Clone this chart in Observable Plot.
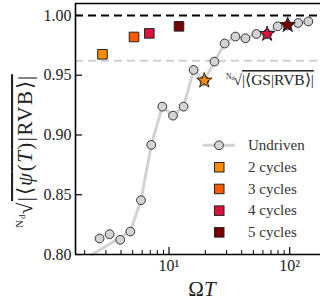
<!DOCTYPE html>
<html><head><meta charset="utf-8">
<script src="https://cdn.jsdelivr.net/npm/d3@7"></script>
<script src="https://cdn.jsdelivr.net/npm/@observablehq/plot@0.6"></script>
<style>
html,body{margin:0;padding:0;background:#fff;}
svg{font-family:"Liberation Serif",serif;}
</style></head><body><div id="chart"></div>
<script>
// ---- data ----
const undrivenX = [2.66, 3.22, 3.94, 4.78, 5.86, 7.13, 8.80, 10.8, 13.2, 16.0, 19.6, 23.8, 28.9, 35.5, 43.0, 53.0, 65.0, 79.5, 96.2, 117.5, 142.8];
const undrivenY = [0.8134, 0.8170, 0.8123, 0.8192, 0.8454, 0.8917, 0.9237, 0.9162, 0.9237, 0.9544, 0.9455, 0.9614, 0.9765, 0.9823, 0.9809, 0.9845, 0.9845, 0.9909, 0.9920, 0.9937, 0.9950];
const lineX = [2.30, 3.94, 4.78, 5.86, 7.13, 8.80, 10.8, 13.2, 16.0, 19.6, 23.8, 28.9, 35.5, 43.0, 53.0, 65.0, 79.5, 96.2, 117.5, 142.8];
const lineY = [0.8000, 0.8140, 0.8192, 0.8454, 0.8917, 0.9237, 0.9162, 0.9237, 0.9544, 0.9455, 0.9614, 0.9765, 0.9823, 0.9809, 0.9845, 0.9845, 0.9909, 0.9920, 0.9937, 0.9950];
const squareX = [2.81, 5.13, 6.87, 12.1];
const squareY = [0.9675, 0.9820, 0.9850, 0.9909];
const squareCycles = [2, 3, 4, 5];
const starX = [19.6, 65.0, 96.2];
const starY = [0.9455, 0.9845, 0.9920];
const starCycles = [2, 4, 5];
const cycleDomain = [2, 3, 4, 5];
const cycleLabels = ["2 cycles", "3 cycles", "4 cycles", "5 cycles"];
const cycleColors = ["#ff8c00", "#ff5a00", "#dc143c", "#7a0000"];
const undrivenLabel = "Undriven";
const yTicks = [0.80, 0.85, 0.90, 0.95, 1.00];
const xMajor = [10, 100];
const xMinor = [2, 3, 4, 5, 6, 7, 8, 9, 20, 30, 40, 50, 60, 70, 80, 90];
const xTickLabels = ["10¹", "10²"];
const perfectLevel = 1.0;
const gsLevel = 0.962;
const xDomain = [1.68, 180];
const yDomain = [0.80, 1.01];

// ---- tables built from arrays ----
const undriven = undrivenX.map((x, i) => ({x, y: undrivenY[i]}));
const lineData = lineX.map((x, i) => ({x, y: lineY[i]}));
const squares = squareX.map((x, i) => ({x, y: squareY[i], c: squareCycles[i]}));
const stars = starX.map((x, i) => ({x, y: starY[i], c: starCycles[i]}));

const W = 320, H = 303, mL = 75, mR = 0, mT = 3, mB = 49;
const pw = W - mL - mR, ph = H - mT - mB;
const gray = "#d3d3d3";

const plot = Plot.plot({
  width: W, height: H,
  marginLeft: mL, marginRight: mR, marginTop: mT, marginBottom: mB,
  x: {type: "log", domain: xDomain},
  y: {domain: yDomain},
  color: {type: "ordinal", domain: cycleDomain, range: cycleColors},
  style: {fontFamily: "'Liberation Serif', serif", background: "white", color: "black"},
  marks: [
    Plot.ruleY([gsLevel], {stroke: "#cfcfcf", strokeWidth: 2, strokeDasharray: "8,5"}),
    Plot.ruleY([perfectLevel], {stroke: "black", strokeWidth: 2, strokeDasharray: "8,5"}),
    Plot.line(lineData, {x: "x", y: "y", stroke: gray, strokeWidth: 3}),
    Plot.dot(undriven, {x: "x", y: "y", r: 4.4, fill: gray, stroke: "#333", strokeWidth: 1}),
    Plot.dot(squares, {x: "x", y: "y", symbol: "square", r: 5.4, fill: "c", stroke: "#222", strokeWidth: 1}),
    Plot.dot(stars, {x: "x", y: "y", symbol: "star", r: 4.8, fill: "c", stroke: "#222", strokeWidth: 1}),
    Plot.tickY(yTicks, {y: d => d, insetRight: pw - 7, stroke: "black", strokeWidth: 1.2}),
    Plot.tickX(xMajor, {x: d => d, insetTop: ph - 7, stroke: "black", strokeWidth: 1.2}),
    Plot.tickX(xMinor, {x: d => d, insetTop: ph - 4, stroke: "black", strokeWidth: 1}),
    Plot.ruleX([xDomain[0]], {stroke: "black", strokeWidth: 1.6}),
    Plot.ruleY([yDomain[0]], {stroke: "black", strokeWidth: 1.6}),
    Plot.ruleY([yDomain[1]], {stroke: "black", strokeWidth: 1.6}),
    Plot.axisY(yTicks, {tickSize: 0, tickPadding: 4, tickFormat: d3.format(".2f"), fontSize: 16, fill: "#222", label: null}),
    Plot.axisX(xMajor, {tickSize: 0, tickPadding: 5, tickFormat: d => xTickLabels[xMajor.indexOf(d)], fontSize: 16, fill: "#222", label: null})
  ]
});
document.getElementById("chart").appendChild(plot);

const svg = d3.select(plot);
const fs = "'Liberation Serif', serif";

// radical label helper
function radical(g, body, size, anchor, spacing) {
  const t = g.append("text").attr("font-family", fs).attr("font-size", size).attr("fill", "#222")
    .attr("text-anchor", anchor).style("letter-spacing", spacing + "px");
  t.append("tspan").attr("font-size", size * 0.5).attr("dy", -size * 0.42).text("N");
  t.append("tspan").attr("font-size", size * 0.38).attr("dy", size * 0.1).text("d");
  t.append("tspan").attr("dy", size * 0.32).attr("dx", -1).text("√");
  const b = t.append("tspan").style("text-decoration", "overline");
  body(b);
  return t;
}

// y-axis label
const gy = svg.append("g").attr("transform", "translate(32,151) rotate(-90)");
radical(gy, b => {
  b.append("tspan").text("|⟨");
  b.append("tspan").attr("font-style", "italic").text("ψ");
  b.append("tspan").text("(");
  b.append("tspan").attr("font-style", "italic").text("T");
  b.append("tspan").text(")|RVB⟩|");
}, 21, "middle", 1.5);

// GS label
const gg = svg.append("g").attr("transform", "translate(226,85)");
radical(gg, b => { b.text("|⟨GS|RVB⟩|"); }, 15.5, "start", 0);

// x label
const xl = svg.append("text").attr("x", 202).attr("y", 296).attr("text-anchor", "middle")
  .attr("font-family", fs).attr("font-size", 21).attr("fill", "#222");
xl.append("tspan").text("Ω");
xl.append("tspan").attr("font-style", "italic").text("T");

// legend
const lg = svg.append("g").attr("font-family", fs).attr("font-size", 15).attr("fill", "#333").attr("text-anchor", "start");
const ly0 = 145.3, dy = 21.7;
lg.append("line").attr("x1", 203).attr("x2", 235).attr("y1", ly0).attr("y2", ly0).attr("stroke", gray).attr("stroke-width", 3);
lg.append("circle").attr("cx", 219).attr("cy", ly0).attr("r", 4.4).attr("fill", gray).attr("stroke", "#333");
lg.append("text").attr("x", 248).attr("y", ly0 + 5).text(undrivenLabel);
cycleLabels.forEach((lab, i) => {
  const y = ly0 + dy * (i + 1);
  lg.append("rect").attr("x", 214.5).attr("y", y - 4.5).attr("width", 9.5).attr("height", 9.5)
    .attr("fill", cycleColors[i]).attr("stroke", "#222");
  lg.append("text").attr("x", 248).attr("y", y + 5).text(lab);
});
</script></body></html>
